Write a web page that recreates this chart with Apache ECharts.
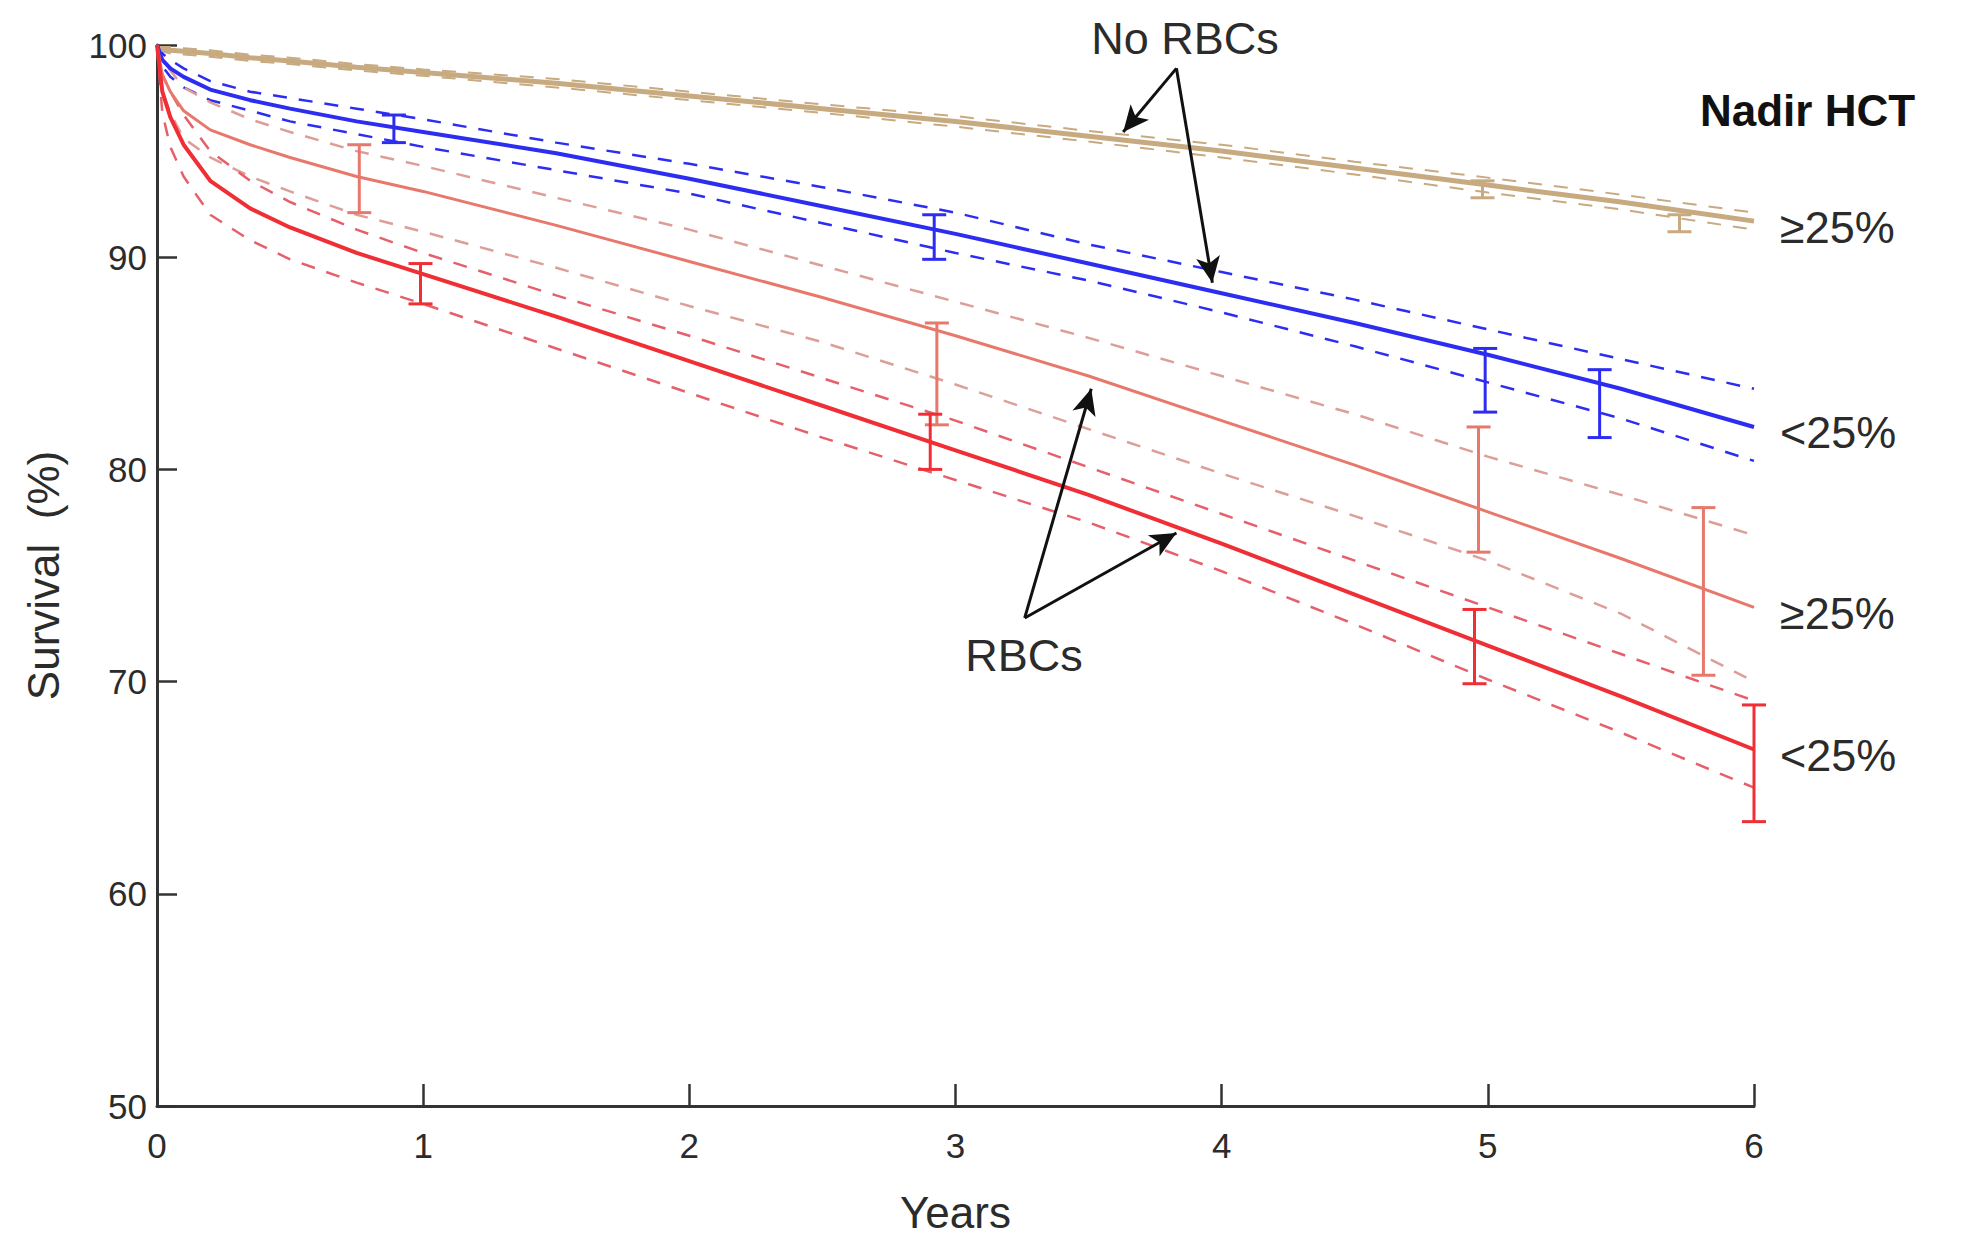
<!DOCTYPE html>
<html>
<head>
<meta charset="utf-8">
<script src="https://cdn.jsdelivr.net/npm/echarts@6/dist/echarts.min.js"></script>
<style>
  html, body { margin: 0; padding: 0; background: #fff; }
  #chart { width: 1970px; height: 1239px; }
</style>
</head>
<body>
<div id="chart"></div>
<script>
(function() {
  var font = "'Liberation Sans', Arial, Helvetica, sans-serif";
  var ink = '#2b2b2b';

  // time points (years) shared by every curve
  var years = [0, 0.02, 0.05, 0.1, 0.2, 0.35, 0.5, 0.75, 1, 1.5, 2, 2.5, 3, 3.5, 4, 4.5, 5, 5.5, 6];

  // No RBCs, nadir HCT >=25%
  var tanMid = [99.8, 99.8, 99.75, 99.7, 99.6, 99.4, 99.25, 98.95, 98.7, 98.2, 97.6, 97.0, 96.4, 95.7, 95.0, 94.2, 93.4, 92.6, 91.7];
  var tanHi  = [99.9, 99.9, 99.9, 99.85, 99.75, 99.55, 99.4, 99.1, 98.85, 98.4, 97.8, 97.2, 96.65, 95.95, 95.3, 94.5, 93.75, 92.95, 92.1];
  var tanLo  = [99.7, 99.7, 99.6, 99.55, 99.45, 99.25, 99.1, 98.8, 98.55, 98.0, 97.4, 96.8, 96.15, 95.45, 94.7, 93.9, 93.05, 92.25, 91.3];

  // No RBCs, nadir HCT <25%
  var blueMid = [100, 99.3, 98.9, 98.5, 97.9, 97.4, 97.0, 96.4, 95.9, 94.9, 93.7, 92.4, 91.1, 89.7, 88.3, 86.9, 85.4, 83.8, 82.0];
  var blueHi  = [100, 99.6, 99.3, 98.9, 98.3, 97.8, 97.5, 97.0, 96.5, 95.4, 94.4, 93.3, 92.1, 90.6, 89.3, 88.0, 86.6, 85.2, 83.8];
  var blueLo  = [100, 99.0, 98.5, 98.0, 97.4, 96.9, 96.4, 95.8, 95.2, 94.1, 93.0, 91.6, 90.2, 88.9, 87.4, 85.8, 84.1, 82.4, 80.4];

  // RBCs, nadir HCT >=25%
  var lrMid = [100, 98.6, 97.8, 96.9, 96.0, 95.3, 94.7, 93.8, 93.1, 91.5, 89.8, 88.1, 86.3, 84.4, 82.3, 80.2, 78.0, 75.8, 73.5];
  var lrHi  = [100, 99.3, 98.8, 98.0, 97.3, 96.5, 95.9, 95.0, 94.3, 92.8, 91.3, 89.6, 87.9, 86.2, 84.4, 82.6, 80.6, 78.8, 76.9];
  var lrLo  = [100, 97.8, 96.8, 95.6, 94.7, 93.8, 93.1, 92.0, 91.2, 89.5, 87.7, 86.0, 84.0, 81.9, 79.8, 77.8, 75.7, 73.2, 70.0];

  // RBCs, nadir HCT <25%
  var redMid = [100, 97.8, 96.6, 95.3, 93.6, 92.3, 91.4, 90.2, 89.2, 87.2, 85.1, 83.0, 80.9, 78.8, 76.5, 74.1, 71.7, 69.3, 66.8];
  var redHi  = [100, 98.6, 97.8, 96.7, 95.0, 93.6, 92.6, 91.3, 90.2, 88.2, 86.3, 84.3, 82.3, 80.1, 77.9, 75.7, 73.5, 71.3, 69.1];
  var redLo  = [100, 96.8, 95.2, 93.8, 92.0, 90.8, 89.9, 88.8, 87.8, 85.7, 83.6, 81.5, 79.5, 77.5, 75.2, 72.7, 70.1, 67.6, 65.0];

  // error bars: x, low, high
  var tanErrX = [4.98, 5.72];
  var tanErrLo = [92.8, 91.2];
  var tanErrHi = [93.6, 92.0];
  var blueErrX = [0.89, 2.92, 4.99, 5.42];
  var blueErrLo = [95.4, 89.9, 82.7, 81.5];
  var blueErrHi = [96.7, 92.0, 85.7, 84.7];
  var lrErrX = [0.76, 2.93, 4.965, 5.81];
  var lrErrLo = [92.1, 82.1, 76.1, 70.3];
  var lrErrHi = [95.3, 86.9, 82.0, 78.2];
  var redErrX = [0.99, 2.905, 4.95, 6.0];
  var redErrLo = [87.8, 80.0, 69.9, 63.4];
  var redErrHi = [89.7, 82.6, 73.4, 68.9];

  // annotation arrows, in data units
  var noRbcFrom = [3.83, 98.9];
  var noRbcTo = [[3.63, 95.9], [3.965, 88.8]];
  var rbcFrom = [3.26, 73.0];
  var rbcTo = [[3.51, 83.8], [3.83, 77.0]];

  var endLabels = ['\u226525%', '<25%', '\u226525%', '<25%'];

  var tan = '#c7aa80', blue = '#2d2df2', salmon = '#e8786c', red = '#ef2f35';
  var salmonDash = '#dd9e98', redDash = '#e6606b';

  function pts(ys) {
    return years.map(function(x, i) { return [x, ys[i]]; });
  }
  function bars(xs, lo, hi) {
    return xs.map(function(x, i) { return [x, lo[i], hi[i]]; });
  }
  function errRender(color) {
    return function(params, api) {
      var x = api.value(0);
      var a = api.coord([x, api.value(1)]);
      var b = api.coord([x, api.value(2)]);
      var cap = 12;
      var st = { stroke: color, lineWidth: 3 };
      return {
        type: 'group',
        children: [
          { type: 'line', shape: { x1: a[0], y1: a[1], x2: b[0], y2: b[1] }, style: st },
          { type: 'line', shape: { x1: a[0] - cap, y1: a[1], x2: a[0] + cap, y2: a[1] }, style: st },
          { type: 'line', shape: { x1: b[0] - cap, y1: b[1], x2: b[0] + cap, y2: b[1] }, style: st }
        ]
      };
    };
  }
  function dashed(ys, color, w) {
    return {
      type: 'line', data: pts(ys), showSymbol: false, smooth: false,
      lineStyle: { color: color, width: w || 2.5, type: [14, 12] }, z: 2, silent: true
    };
  }
  function solid(ys, color, w, label) {
    return {
      type: 'line', data: pts(ys), showSymbol: false, smooth: false,
      lineStyle: { color: color, width: w }, z: 4, silent: true,
      endLabel: {
        show: true, formatter: label, distance: 26, offset: [0, 6],
        color: ink, fontSize: 45, fontFamily: font
      }
    };
  }
  function errSeries(xs, lo, hi, color) {
    return {
      type: 'custom', data: bars(xs, lo, hi), renderItem: errRender(color),
      encode: { x: 0, y: [1, 2] }, z: 5, silent: true
    };
  }
  function arrows(from, tos) {
    return tos.map(function(t) {
      return [{ coord: from, symbol: 'none' }, { coord: t, symbol: 'arrow' }];
    });
  }

  var chart = echarts.init(document.getElementById('chart'), null, { renderer: 'svg' });
  chart.setOption({
    animation: false,
    backgroundColor: '#fff',
    grid: { left: 157, right: 216, top: 45, bottom: 132 },
    xAxis: {
      type: 'value', min: 0, max: 6, interval: 1,
      name: 'Years', nameLocation: 'middle', nameGap: 84,
      nameTextStyle: { color: ink, fontSize: 44, fontFamily: font },
      axisLine: { lineStyle: { color: '#333', width: 3 } },
      axisTick: { inside: true, length: 22, lineStyle: { color: '#333', width: 2.5 } },
      axisLabel: { color: ink, fontSize: 35, fontFamily: font, margin: 22 },
      splitLine: { show: false }
    },
    yAxis: {
      type: 'value', min: 50, max: 100, interval: 10,
      name: 'Survival  (%)', nameLocation: 'middle', nameGap: 92,
      nameTextStyle: { color: ink, fontSize: 44, fontFamily: font },
      axisLine: { show: true, lineStyle: { color: '#333', width: 3 } },
      axisTick: { show: true, inside: true, length: 20, lineStyle: { color: '#333', width: 2.5 } },
      axisLabel: { color: ink, fontSize: 35, fontFamily: font, margin: 10 },
      splitLine: { show: false }
    },
    graphic: [
      { type: 'text', x: 1185, y: 38, style: { text: 'No RBCs', fill: ink, font: '45px ' + font, align: 'center', verticalAlign: 'middle' } },
      { type: 'text', x: 1024, y: 655, style: { text: 'RBCs', fill: ink, font: '45px ' + font, align: 'center', verticalAlign: 'middle' } },
      { type: 'text', x: 1700, y: 110, style: { text: 'Nadir HCT', fill: '#111', font: 'bold 44px ' + font, align: 'left', verticalAlign: 'middle' } }
    ],
    series: [
      dashed(tanHi, tan, 2), dashed(tanLo, tan, 2),
      dashed(blueHi, blue), dashed(blueLo, blue),
      dashed(lrHi, salmonDash), dashed(lrLo, salmonDash),
      dashed(redHi, redDash), dashed(redLo, redDash),
      solid(tanMid, tan, 5, endLabels[0]),
      solid(blueMid, blue, 4, endLabels[1]),
      solid(lrMid, salmon, 3, endLabels[2]),
      solid(redMid, red, 4, endLabels[3]),
      errSeries(tanErrX, tanErrLo, tanErrHi, tan),
      errSeries(blueErrX, blueErrLo, blueErrHi, blue),
      errSeries(lrErrX, lrErrLo, lrErrHi, salmon),
      errSeries(redErrX, redErrLo, redErrHi, red),
      {
        type: 'line', data: [], silent: true,
        markLine: {
          silent: true, symbolSize: [18, 26],
          label: { show: false },
          lineStyle: { color: '#111', width: 3, type: 'solid' },
          data: arrows(noRbcFrom, noRbcTo).concat(arrows(rbcFrom, rbcTo))
        }
      }
    ]
  });
  window.addEventListener('resize', function() { chart.resize(); });
})();
</script>
</body>
</html>
